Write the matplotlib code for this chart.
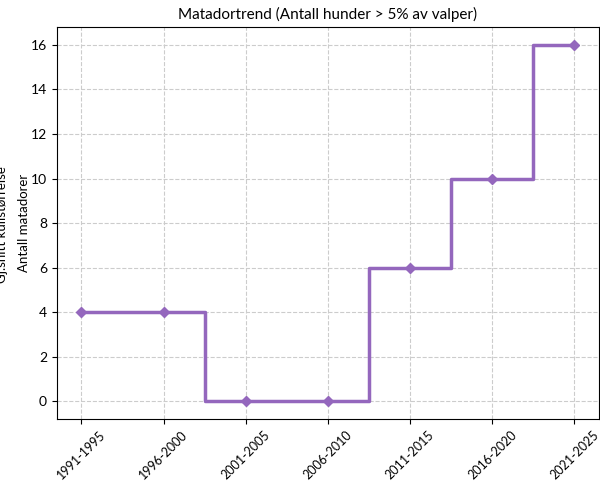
import matplotlib
matplotlib.use('Agg')
import matplotlib.pyplot as plt

plt.rcParams['font.family'] = ['Lato', 'DejaVu Sans']

periods = ['1991-1995', '1996-2000', '2001-2005', '2006-2010',
           '2011-2015', '2016-2020', '2021-2025']
matadors = [4, 4, 0, 0, 6, 10, 16]

fig = plt.figure(figsize=(6, 4.84), dpi=100)
ax = fig.add_axes([0.0945, 0.134, 0.904, 0.81])

x = list(range(len(periods)))
ax.step(x, matadors, where='mid', color='#9467bd', linewidth=2.5)
ax.plot(x, matadors, linestyle='none', marker='D', markersize=5, color='#9467bd')

ax.set_xticks(x)
ax.set_xticklabels(periods, rotation=45, fontsize=9)
ax.set_yticks(range(0, 17, 2))
ax.tick_params(axis='y', labelsize=10)
ax.grid(True, linestyle='--', color='#cccccc', linewidth=0.8)
ax.set_axisbelow(True)

ax.set_title('Matadortrend (Antall hunder > 5% av valper)', fontsize=11)
ax.set_ylabel('Antall matadorer', fontsize=9.5)
ax.yaxis.set_label_coords(-0.05, 0.5)
# second label sits half off the left edge, as in the original
fig.text(0.003, 0.535, 'Gj.snitt kullstørrelse', rotation=90, fontsize=9.5,
         ha='center', va='center')

fig.savefig('out.png', dpi=100)
